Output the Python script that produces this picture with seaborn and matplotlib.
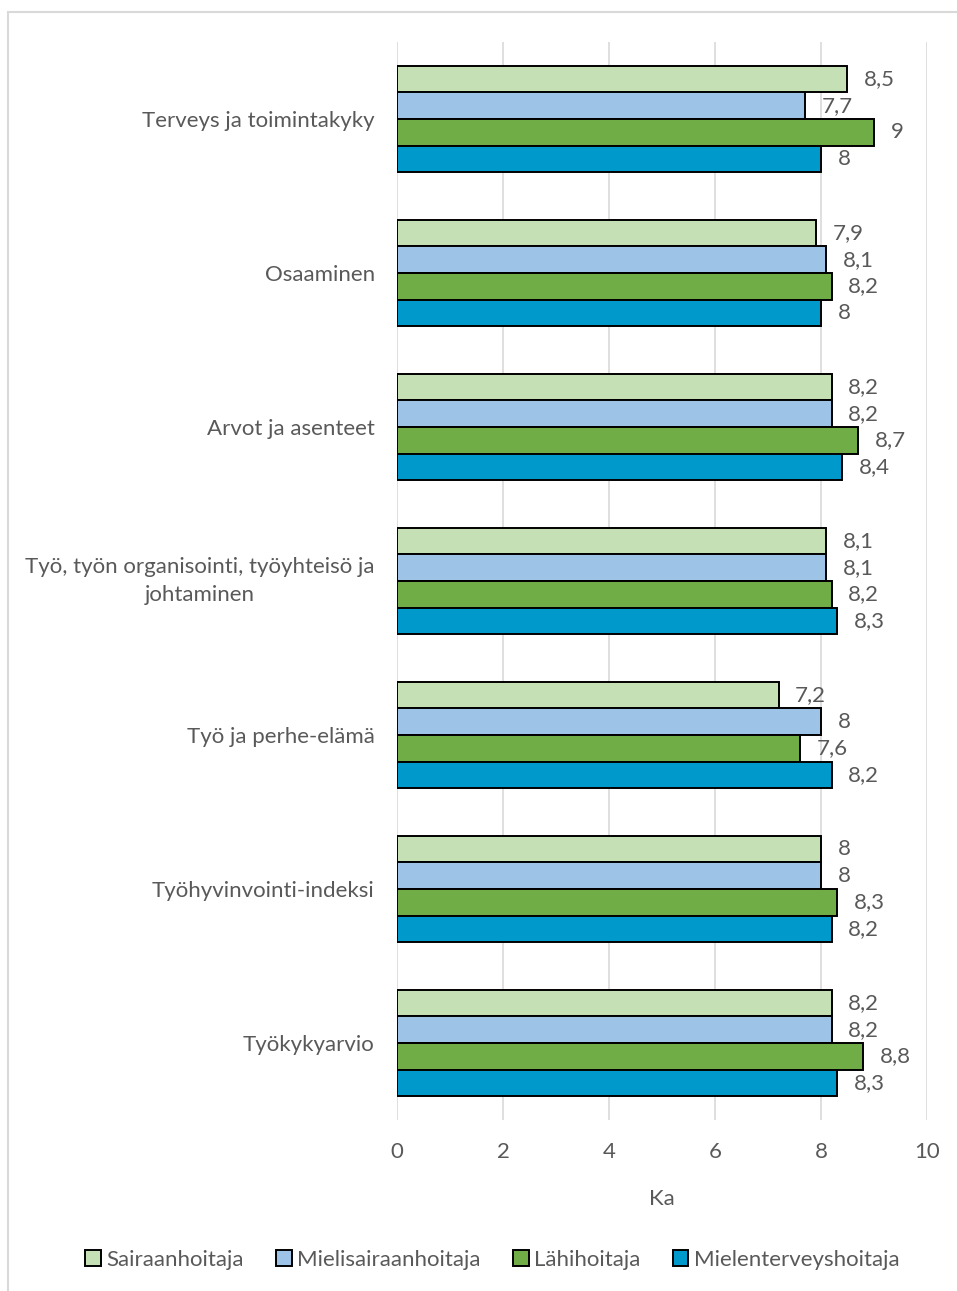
import matplotlib
matplotlib.use("Agg")
import matplotlib.pyplot as plt
import matplotlib.patches as mpatches
import matplotlib.lines as mlines
import seaborn as sns
import pandas as pd

categories = [
    "Terveys ja toimintakyky",
    "Osaaminen",
    "Arvot ja asenteet",
    "Työ, työn organisointi, työyhteisö ja\njohtaminen",
    "Työ ja perhe-elämä",
    "Työhyvinvointi-indeksi",
    "Työkykyarvio",
]
groups = ["Sairaanhoitaja", "Mielisairaanhoitaja", "Lähihoitaja", "Mielenterveyshoitaja"]
sairaanhoitaja = [8.5, 7.9, 8.2, 8.1, 7.2, 8.0, 8.2]
mielisairaanhoitaja = [7.7, 8.1, 8.2, 8.1, 8.0, 8.0, 8.2]
lahihoitaja = [9.0, 8.2, 8.7, 8.2, 7.6, 8.3, 8.8]
mielenterveyshoitaja = [8.0, 8.0, 8.4, 8.3, 8.2, 8.2, 8.3]
xticks = [0, 2, 4, 6, 8, 10]

colors = ["#C5E0B4", "#9DC3E6", "#70AD47", "#0099CC"]
text_color = "#595959"
fs = 16

series = [sairaanhoitaja, mielisairaanhoitaja, lahihoitaja, mielenterveyshoitaja]
df = pd.DataFrame(
    [(c, g, v) for g, vals in zip(groups, series) for c, v in zip(categories, vals)],
    columns=["kategoria", "ryhma", "ka"],
)

sns.set_style("white")
plt.rcParams["font.family"] = ["Lato", "DejaVu Sans"]

fig = plt.figure(figsize=(9.57, 12.91), dpi=100)
ax = fig.add_axes([0.4148, 0.1325, 0.5538, 0.835])

sns.barplot(
    data=df, y="kategoria", x="ka", hue="ryhma",
    order=categories, hue_order=groups, palette=colors,
    width=0.69, gap=0, edgecolor="black", linewidth=1.4,
    orient="h", ax=ax, legend=False, errorbar=None, saturation=1,
)

for container, vals in zip(ax.containers, series):
    labels = [f"{v:g}".replace(".", ",") for v in vals]
    ax.bar_label(container, labels=labels, padding=12, fontsize=fs, color=text_color)

ax.set_xlim(0, 10)
ax.set_ylim(6.5, -0.5)
ax.set_xticks(xticks)
ax.set_xticklabels([str(t) for t in xticks])
ax.xaxis.grid(True, color="#D9D9D9", linewidth=1.2)
ax.set_axisbelow(True)
for s in ax.spines.values():
    s.set_visible(False)
ax.tick_params(axis="x", length=0, pad=16, labelsize=fs, labelcolor=text_color)
ax.tick_params(axis="y", length=0, pad=16, labelsize=fs, labelcolor=text_color)
for lab in ax.get_yticklabels():
    lab.set_multialignment("center")
    lab.set_linespacing(1.55)
    if "\n" in lab.get_text():
        lab.set_verticalalignment("center")
ax.set_xlabel("Ka", fontsize=fs, color=text_color, labelpad=19)
ax.set_ylabel("")

handles = [mpatches.Patch(facecolor=c, edgecolor="black", linewidth=1.4, label=g)
           for c, g in zip(colors, groups)]
leg = fig.legend(
    handles=handles, loc="center", bbox_to_anchor=(0.5146, 0.024), ncol=4,
    frameon=False, fontsize=fs, handlelength=0.7, handleheight=0.7,
    handletextpad=0.25, columnspacing=1.45,
)
for t in leg.get_texts():
    t.set_color(text_color)

# chart area border (top and left edges)
fig.add_artist(mlines.Line2D([8 / 957, 1.0], [1 - 12 / 1291, 1 - 12 / 1291],
                             transform=fig.transFigure, color="#D9D9D9", linewidth=1.5))
fig.add_artist(mlines.Line2D([8 / 957, 8 / 957], [0.0, 1 - 12 / 1291],
                             transform=fig.transFigure, color="#D9D9D9", linewidth=1.5))

fig.savefig("out.png", dpi=100)
